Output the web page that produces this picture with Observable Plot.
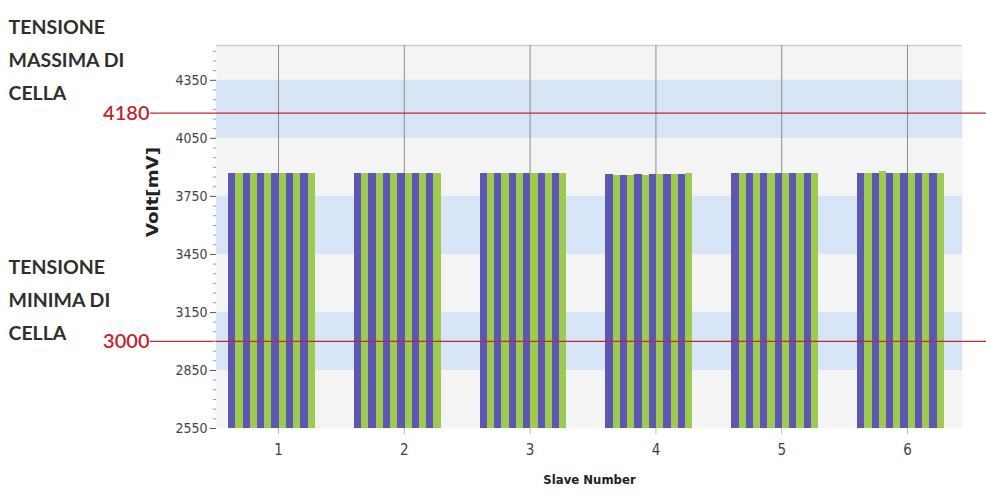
<!DOCTYPE html>
<html><head><meta charset="utf-8">
<script src="https://cdn.jsdelivr.net/npm/d3@7"></script>
<script src="https://cdn.jsdelivr.net/npm/@observablehq/plot@0.6"></script>
<style>body{margin:0;background:#fff;} #chart{width:986px;height:494px;}</style>
</head><body><div id="chart"></div>
<script>
const slaves = [1, 2, 3, 4, 5, 6];
const cellVoltages = [
  [3870, 3870, 3870, 3870, 3870, 3870, 3870, 3870, 3870, 3870, 3870, 3870],
  [3870, 3870, 3870, 3870, 3870, 3870, 3870, 3870, 3870, 3870, 3870, 3870],
  [3870, 3870, 3870, 3870, 3870, 3870, 3870, 3870, 3870, 3870, 3870, 3870],
  [3862, 3860, 3860, 3860, 3862, 3860, 3862, 3862, 3862, 3865, 3865, 3868],
  [3870, 3870, 3870, 3870, 3870, 3870, 3870, 3870, 3870, 3870, 3870, 3870],
  [3870, 3870, 3870, 3878, 3870, 3870, 3870, 3870, 3870, 3870, 3870, 3870]
];
const yTicks = [2550, 2850, 3150, 3450, 3750, 4050, 4350];
const bandStarts = [2850, 3450, 4050];
const limits = [{v: 4180, label: "4180"}, {v: 3000, label: "3000"}];
const sideLabelMax = "TENSIONE\nMASSIMA DI\nCELLA";
const sideLabelMin = "TENSIONE\nMINIMA DI\nCELLA";
const cellColors = ["#5d56b2", "#9dcb4f"];
const yMin = 2550, yMax = 4530;

const groupWidth = 0.69;
const barShift = -0.052;
const cells = [];
slaves.forEach((s, i) => {
  const n = cellVoltages[i].length, w = groupWidth / n;
  const start = s + barShift - groupWidth / 2;
  cellVoltages[i].forEach((v, j) => {
    cells.push({slave: s, cell: j, v, x1: start + j * w, x2: start + (j + 1) * w});
  });
});
const minorTicks = d3.range(2550, 4501, 50).filter(v => !yTicks.includes(v));
const narrow = "'Liberation Sans Narrow', 'DejaVu Sans Condensed', 'Roboto', sans-serif";
const sideFont = "Lato, 'Open Sans', sans-serif";

const chart = Plot.plot({
  width: 986, height: 494,
  marginLeft: 216, marginRight: 24, marginTop: 45, marginBottom: 66,
  style: {fontFamily: narrow, background: "transparent", overflow: "visible"},
  x: {domain: [0.507, 6.437]},
  y: {domain: [yMin, yMax], label: null},
  color: {type: "identity"},
  marks: [
    Plot.frame({fill: "#f4f4f4", stroke: null}),
    Plot.rect(bandStarts, {y1: d => d, y2: d => d + 300, fill: "#d8e5f6"}),
    Plot.ruleY([yMax], {stroke: "#cfcfcf", strokeWidth: 1.5}),
    Plot.ruleX(slaves, {x: d => d, stroke: "#8c8c8c", strokeWidth: 1}),
    Plot.rect(cells, {x1: "x1", x2: "x2", y1: () => yMin, y2: "v", fill: d => cellColors[d.cell % 2], shapeRendering: "crispEdges"}),
    Plot.ruleY(limits, {y: "v", stroke: "#c0282d", strokeWidth: 1.3, insetLeft: -66, insetRight: -24}),
    Plot.text(limits, {y: "v", text: "label", frameAnchor: "left", dx: -67, textAnchor: "end", fill: "#c0282d", fontSize: 20, fontWeight: 600, fontFamily: sideFont}),
    Plot.text([sideLabelMax], {text: d => d, frameAnchor: "top-left", dx: -208, dy: 11, textAnchor: "start", lineAnchor: "middle", lineHeight: 1.68, fontSize: 19.5, fontWeight: "bold", fill: "#2f2f2f", fontFamily: sideFont}),
    Plot.text([sideLabelMin], {text: d => d, frameAnchor: "top-left", dx: -208, dy: 251, textAnchor: "start", lineAnchor: "middle", lineHeight: 1.68, fontSize: 19.5, fontWeight: "bold", fill: "#2f2f2f", fontFamily: sideFont}),
    Plot.axisY(yTicks, {tickSize: 6, tickPadding: 3, fontSize: 14, fill: "#444", stroke: "#555", label: null, tickFormat: d => String(d), fontFamily: narrow}),
    Plot.axisY(minorTicks, {tickSize: 3, text: null, stroke: "#9a9a9a", label: null}),
    Plot.text(["Volt[mV]"], {text: d => d, frameAnchor: "left", dx: -64, rotate: -90, fontWeight: "bold", fontSize: 16, fill: "#222", fontFamily: narrow}),
    Plot.axisX(slaves, {tickSize: 6, tickPadding: 10, fontSize: 15, stroke: "#bbb", fill: "#444", label: null, tickFormat: d => String(d), fontFamily: narrow}),
    Plot.text(["Slave Number"], {text: d => d, frameAnchor: "bottom", dy: 55, fontWeight: "bold", fontSize: 13, fill: "#222", fontFamily: narrow})
  ]
});
document.getElementById("chart").appendChild(chart);
d3.select(chart).selectAll("text").filter(function() { return this.textContent === "Volt[mV]"; })
  .attr("textLength", 90).attr("lengthAdjust", "spacingAndGlyphs");
</script>
</body></html>
